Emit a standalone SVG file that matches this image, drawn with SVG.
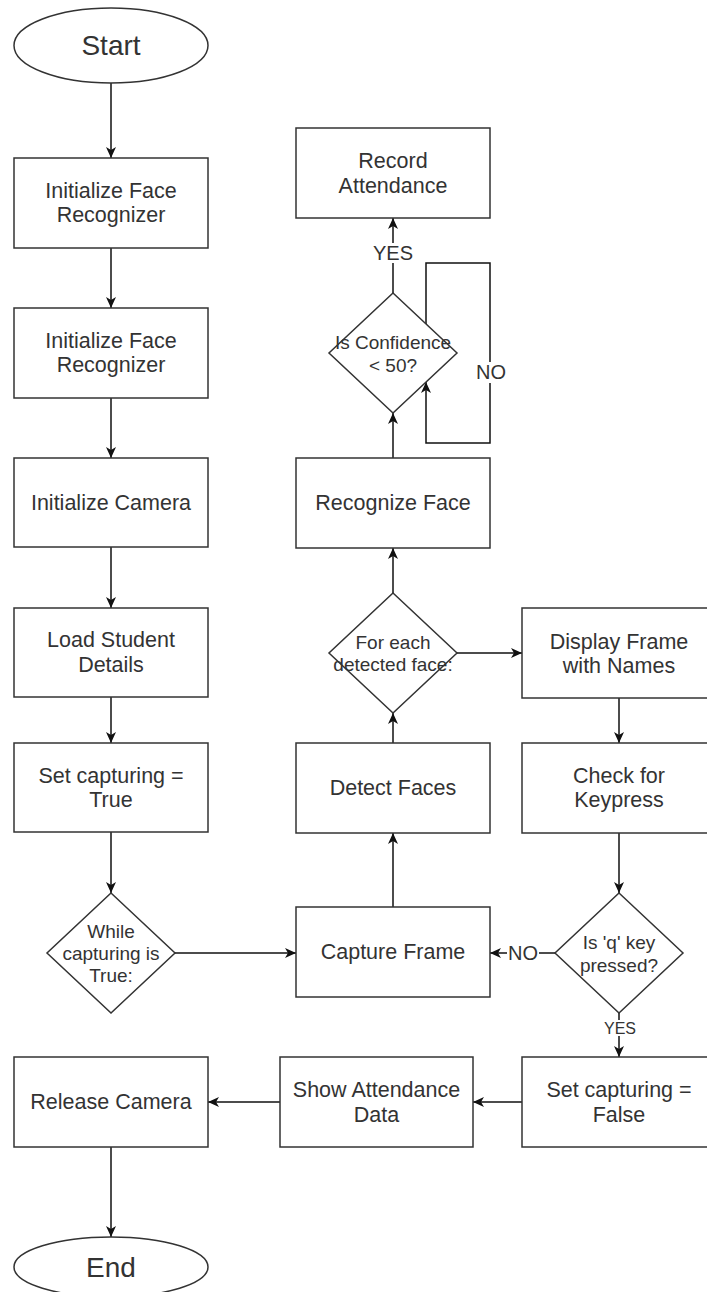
<svg xmlns="http://www.w3.org/2000/svg" width="707" height="1292" viewBox="0 0 707 1292">
<style>
.box{fill:#fff;stroke:#333;stroke-width:1.5}
.t{font-family:"Liberation Sans",Arial,sans-serif;font-size:21.5px;fill:#333;text-anchor:middle;dominant-baseline:central}
.big{font-size:28px}
.d{font-size:19px}
.lbl{font-size:20px}
.sm{font-size:16px}
.edge{stroke:#111;stroke-width:1.5;fill:none;marker-end:url(#arr)}
.bg{fill:#fff}
</style>
<defs>
<marker id="arr" viewBox="0 0 11 10" refX="11" refY="5" markerWidth="11" markerHeight="10" markerUnits="userSpaceOnUse" orient="auto">
<path d="M0,0 L11,5 L0,10 L3,5 z" fill="#111"/>
</marker>
</defs>
<rect width="707" height="1292" fill="#fff"/>

<g id="connectors">
<path class="edge" d="M111,83 L111,158"/>
<path class="edge" d="M111,248 L111,308"/>
<path class="edge" d="M111,398 L111,458"/>
<path class="edge" d="M111,547 L111,608"/>
<path class="edge" d="M111,697 L111,743"/>
<path class="edge" d="M111,832 L111,893"/>
<path class="edge" d="M175,953 L296,953"/>
<path class="edge" d="M393,907 L393,833"/>
<path class="edge" d="M393,743 L393,713"/>
<path class="edge" d="M393,593 L393,548"/>
<path class="edge" d="M393,458 L393,413"/>
<path class="edge" d="M393,293 L393,218"/>
<path class="edge" d="M426,324 L426,263 L490,263 L490,443 L426,443 L426,382"/>
<path class="edge" d="M457,653 L522,653"/>
<path class="edge" d="M619,698 L619,743"/>
<path class="edge" d="M619,833 L619,893"/>
<path class="edge" d="M555,953 L490,953"/>
<path class="edge" d="M619,1013 L619,1057"/>
<path class="edge" d="M522,1102 L473,1102"/>
<path class="edge" d="M280,1102 L208,1102"/>
<path class="edge" d="M111,1147 L111,1237"/>
<rect class="bg" x="371" y="243" width="44" height="20"/>
<text class="t lbl" x="393" y="253">YES</text>
<rect class="bg" x="475" y="362" width="32" height="21"/>
<text class="t lbl" x="491" y="372">NO</text>
<rect class="bg" x="507" y="943" width="32" height="20"/>
<text class="t lbl" x="523" y="953">NO</text>
<rect class="bg" x="603" y="1020" width="33" height="16"/>
<text class="t sm" x="620" y="1028">YES</text>
</g>

<g id="start">
<ellipse class="box" cx="111" cy="45.5" rx="97" ry="37.5"/>
<text class="t big" x="111" y="45.5">Start</text>
</g>
<g id="init-recognizer-1">
<rect class="box" x="14" y="158" width="194" height="90"/>
<text class="t" x="111" y="191">Initialize Face</text>
<text class="t" x="111" y="215">Recognizer</text>
</g>
<g id="init-recognizer-2">
<rect class="box" x="14" y="308" width="194" height="90"/>
<text class="t" x="111" y="341">Initialize Face</text>
<text class="t" x="111" y="365">Recognizer</text>
</g>
<g id="init-camera">
<rect class="box" x="14" y="458" width="194" height="89"/>
<text class="t" x="111" y="503">Initialize Camera</text>
</g>
<g id="load-students">
<rect class="box" x="14" y="608" width="194" height="89"/>
<text class="t" x="111" y="640">Load Student</text>
<text class="t" x="111" y="665">Details</text>
</g>
<g id="set-true">
<rect class="box" x="14" y="743" width="194" height="89"/>
<text class="t" x="111" y="776">Set capturing =</text>
<text class="t" x="111" y="800">True</text>
</g>
<g id="while-capturing">
<polygon class="box" points="111,893 175,953 111,1013 47,953"/>
<text class="t d" x="111" y="931">While</text>
<text class="t d" x="111" y="953">capturing is</text>
<text class="t d" x="111" y="975">True:</text>
</g>
<g id="capture-frame">
<rect class="box" x="296" y="907" width="194" height="90"/>
<text class="t" x="393" y="952">Capture Frame</text>
</g>
<g id="detect-faces">
<rect class="box" x="296" y="743" width="194" height="90"/>
<text class="t" x="393" y="788">Detect Faces</text>
</g>
<g id="for-each-face">
<polygon class="box" points="393,593 457,653 393,713 329,653"/>
<text class="t d" x="393" y="642">For each</text>
<text class="t d" x="393" y="664">detected face:</text>
</g>
<g id="recognize-face">
<rect class="box" x="296" y="458" width="194" height="90"/>
<text class="t" x="393" y="503">Recognize Face</text>
</g>
<g id="confidence">
<polygon class="box" points="393,293 457,353 393,413 329,353"/>
<text class="t d" x="393" y="342">Is Confidence</text>
<text class="t d" x="393" y="365">&lt; 50?</text>
</g>
<g id="record-attendance">
<rect class="box" x="296" y="128" width="194" height="90"/>
<text class="t" x="393" y="161">Record</text>
<text class="t" x="393" y="186">Attendance</text>
</g>
<g id="display-frame">
<rect class="box" x="522" y="608" width="194" height="90"/>
<text class="t" x="619" y="642">Display Frame</text>
<text class="t" x="619" y="666">with Names</text>
</g>
<g id="check-keypress">
<rect class="box" x="522" y="743" width="194" height="90"/>
<text class="t" x="619" y="776">Check for</text>
<text class="t" x="619" y="800">Keypress</text>
</g>
<g id="q-pressed">
<polygon class="box" points="619,893 683,953 619,1013 555,953"/>
<text class="t d" x="619" y="942">Is 'q' key</text>
<text class="t d" x="619" y="965">pressed?</text>
</g>
<g id="set-false">
<rect class="box" x="522" y="1057" width="194" height="90"/>
<text class="t" x="619" y="1090">Set capturing =</text>
<text class="t" x="619" y="1115">False</text>
</g>
<g id="show-attendance">
<rect class="box" x="280" y="1057" width="193" height="90"/>
<text class="t" x="376.5" y="1090">Show Attendance</text>
<text class="t" x="376.5" y="1115">Data</text>
</g>
<g id="release-camera">
<rect class="box" x="14" y="1057" width="194" height="90"/>
<text class="t" x="111" y="1102">Release Camera</text>
</g>
<g id="end">
<ellipse class="box" cx="111" cy="1267" rx="97" ry="30"/>
<text class="t big" x="111" y="1267">End</text>
</g>
</svg>
